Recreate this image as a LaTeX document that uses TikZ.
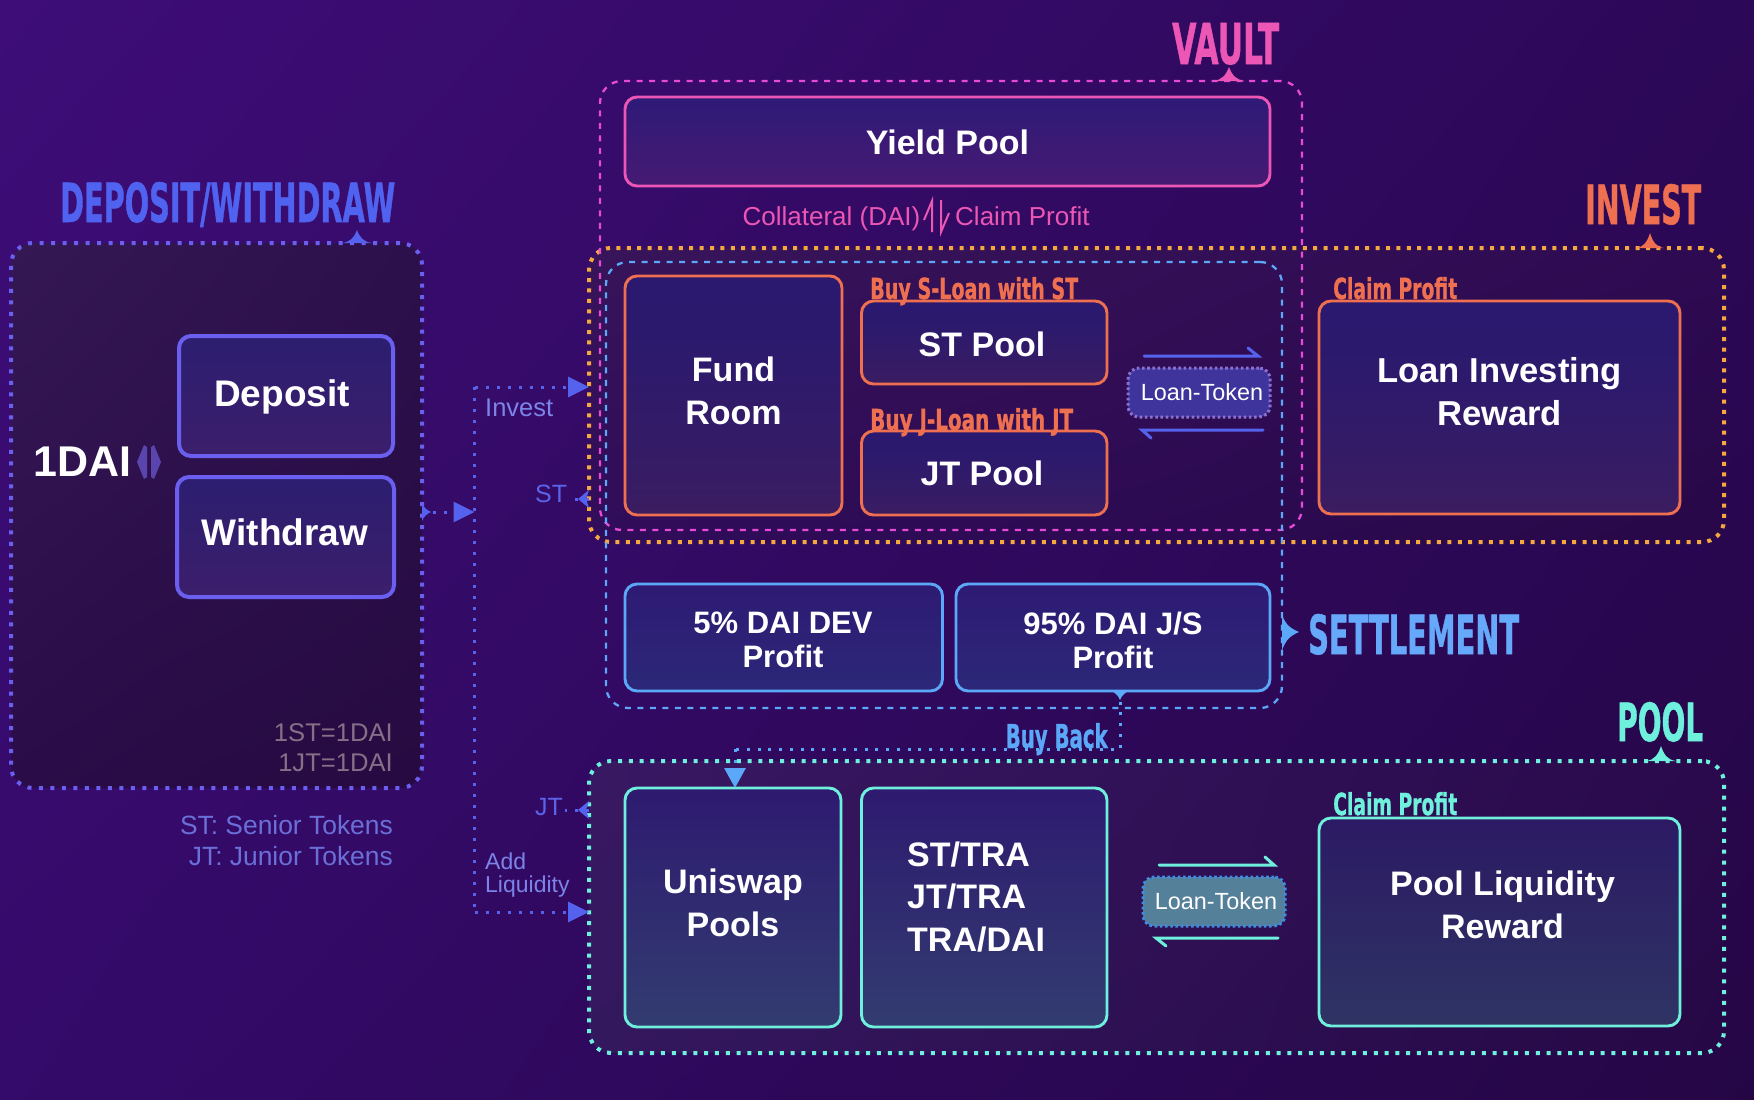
\documentclass[tikz,border=0pt]{standalone}
\usepackage{graphicx}
\usepackage{fontspec}
\setmainfont{Liberation Sans}
\newfontfamily\dinfont{DejaVu Sans Bold}[FakeBold=1.2]
\usetikzlibrary{arrows.meta,shadings}
\definecolor{cdep}{HTML}{6B5FF0}
\definecolor{cblue}{HTML}{5562EE}
\definecolor{cpink}{HTML}{EC56B4}
\definecolor{cmag}{HTML}{E84AD8}
\definecolor{cora}{HTML}{EF7050}
\definecolor{cgold}{HTML}{F4A83F}
\definecolor{csky}{HTML}{5CA8F8}
\definecolor{cteal}{HTML}{6EF0DC}
\definecolor{bgul}{HTML}{3E0D78}\definecolor{bgur}{HTML}{2C0858}\definecolor{bgll}{HTML}{340A6A}\definecolor{bglr}{HTML}{250645}
\definecolor{dul}{HTML}{341854}\definecolor{dur}{HTML}{2C104C}\definecolor{dll}{HTML}{2A0C48}\definecolor{dlr}{HTML}{260A40}
\definecolor{iul}{HTML}{38145A}\definecolor{iur}{HTML}{2E0A52}\definecolor{ill}{HTML}{300C5A}\definecolor{ilr}{HTML}{280848}
\definecolor{pul}{HTML}{381862}\definecolor{pur}{HTML}{2A0A4C}\definecolor{pll}{HTML}{34185E}\definecolor{plr}{HTML}{260846}
\definecolor{tA}{HTML}{2C1E70}\definecolor{bA}{HTML}{3C1E6C}
\definecolor{tP}{HTML}{2E1A78}\definecolor{bP}{HTML}{461A72}
\definecolor{tD}{HTML}{2E1A74}\definecolor{bD}{HTML}{2C2878}
\definecolor{tU}{HTML}{2E1A70}\definecolor{bU}{HTML}{323C70}
\definecolor{tR}{HTML}{2C1A64}\definecolor{bR}{HTML}{2E3464}
\definecolor{ltA}{HTML}{8C70D0}\definecolor{lfA}{HTML}{3F349C}
\definecolor{ltB}{HTML}{3F8CE0}\definecolor{lfB}{HTML}{55809A}
\definecolor{tST}{HTML}{5A64E8}\definecolor{tIN}{HTML}{7C84E8}
\definecolor{tRT}{HTML}{857088}\definecolor{tLG}{HTML}{6A70D8}
\definecolor{ico}{HTML}{5A44AD}\definecolor{tDW}{HTML}{4F63F0}\definecolor{tSE}{HTML}{66A8FA}
\pgfdeclareverticalshading{orangeboxshade}{100bp}{
  rgb(0bp)=(0.29,0.12,0.32);
  rgb(8bp)=(0.29,0.12,0.32);
  rgb(30bp)=(0.22,0.11,0.39);
  rgb(62bp)=(0.17,0.10,0.43);
  rgb(100bp)=(0.17,0.10,0.45)}
\tikzset{
  x=1pt,y=-1pt,
  box/.style={draw,line width=2.9pt,rounded corners=12pt,inner sep=0pt,outer sep=0pt},
  panel/.style={draw,rounded corners=22pt,line width=4pt,inner sep=0pt,outer sep=0pt},
  guide/.style={draw,rounded corners=22pt,line width=2.3pt,inner sep=0pt,outer sep=0pt,dash pattern=on 6pt off 6.5pt},
  flow/.style={cblue,line width=3pt,dash pattern=on 3pt off 8pt},
  back/.style={csky,line width=3pt,dash pattern=on 3pt off 7.7pt},
  bigtip/.tip={Triangle[length=21pt,width=20pt]},
  smalltip/.tip={Stealth[length=11pt,width=18pt,inset=3pt]},
  lbl/.style={inner sep=0pt,font=\fontsize{26}{31}\selectfont},
  half/.style={line width=3pt,line cap=round,line join=miter},
  tok/.style={draw,rounded corners=11pt,line width=3pt,dash pattern=on 2.6pt off 2.6pt,inner sep=0pt,outer sep=0pt},
  btext/.style={inner sep=0pt,align=center,text=white,font=\fontsize{34}{42.5}\selectfont\bfseries},
  ttext/.style={inner sep=0pt,text=white,font=\fontsize{23.4}{28}\selectfont},
}
% name, x1, y1, x2, y2, style
\newcommand{\bx}[6]{\node[#6,minimum width={(#4-#2)*1pt},minimum height={(#5-#3)*1pt}] (#1) at ({(#2+#4)/2},{(#3+#5)/2}) {};}
% name, x, ybase, w, h, colour, text
\newcommand{\din}[7]{\node[anchor=base west,inner sep=0pt,text=#6] (#1) at (#2,#3) {\resizebox{#4pt}{#5pt}{\dinfont #7}};}
% x, ytip, ybase, half width, colour
\newcommand{\nubup}[5]{\fill[#5] ({#1-#4},#3) .. controls ({#1-0.45*#4},{#3-1}) and ({#1-0.2*#4},{#3-0.4*(#3-#2)}) .. (#1,#2) .. controls ({#1+0.2*#4},{#3-0.4*(#3-#2)}) and ({#1+0.45*#4},{#3-1}) .. ({#1+#4},#3) -- cycle;}
\begin{document}
\begin{tikzpicture}
\useasboundingbox (0,0) rectangle (1754,1100);
\shade[upper left=bgul, upper right=bgur, lower left=bgll, lower right=bglr] (0,0) rectangle (1754,1100);

% panels
\bx{dep}{11}{243}{422}{788}{panel,draw=cdep,dash pattern=on 4pt off 7.5pt,upper left=dul,upper right=dur,lower left=dll,lower right=dlr}
\bx{invest}{589}{248}{1724}{542}{panel,draw=cgold,dash pattern=on 4pt off 6.4pt,upper left=iul,upper right=iur,lower left=ill,lower right=ilr}
\bx{pool}{589}{761}{1724}{1053}{panel,draw=cteal,dash pattern=on 4pt off 6.8pt,upper left=pul,upper right=pur,lower left=pll,lower right=plr}
\bx{vault}{600}{81}{1302}{530}{guide,draw=cmag}
\bx{settle}{606}{262}{1282}{708}{guide,draw=csky}

% boxes
\bx{deposit}{179}{336}{393}{456}{box,draw=cdep,line width=4pt,top color=tA,bottom color=bA}
\bx{withdraw}{177}{477}{394}{597}{box,draw=cdep,line width=4pt,top color=tA,bottom color=bA}
\bx{yield}{625}{97}{1270}{186}{box,draw=cpink,top color=tP,bottom color=bP}
\bx{fund}{625}{276}{842}{515}{box,draw=cora,shading=orangeboxshade}
\bx{stpool}{861.5}{301}{1107}{384}{box,draw=cora,shading=orangeboxshade}
\bx{jtpool}{861.5}{431}{1107}{515}{box,draw=cora,shading=orangeboxshade}
\bx{lir}{1319}{301}{1680}{514}{box,draw=cora,shading=orangeboxshade}
\bx{dev}{625}{584}{942.5}{691}{box,draw=csky,top color=tD,bottom color=bD}
\bx{js}{956}{584}{1270}{691}{box,draw=csky,top color=tD,bottom color=bD}
\bx{uni}{625}{788}{841}{1027}{box,draw=cteal,top color=tU,bottom color=bU}
\bx{pairs}{861.5}{788}{1107}{1027}{box,draw=cteal,top color=tU,bottom color=bU}
\bx{plrb}{1319}{818}{1680}{1026}{box,draw=cteal,top color=tR,bottom color=bR}

% box texts
\node[btext,font=\fontsize{37}{44}\selectfont\bfseries] (tdeposit) at (282,397) {Deposit};
\node[btext,font=\fontsize{37}{44}\selectfont\bfseries] (twithdraw) at (285,532.5) {Withdraw};
\node[btext] (tyield) at (947.5,142.5) {Yield Pool};
\node[btext] (tfund) at (733.5,391) {Fund\\Room};
\node[btext] (tst) at (982,344.5) {ST Pool};
\node[btext] (tjt) at (982,473) {JT Pool};
\node[btext,font=\fontsize{34.6}{42.5}\selectfont\bfseries] (tlir) at (1499.5,391.5) {Loan Investing\\Reward};
\node[btext,font=\fontsize{31}{34}\selectfont\bfseries] (tdev) at (783,640) {5\% DAI DEV\\Profit};
\node[btext,font=\fontsize{31}{34}\selectfont\bfseries] (tjs) at (1113,640) {95\% DAI J/S\\Profit};
\node[btext] (tuni) at (733,903) {Uniswap\\Pools};
\node[btext] (tplr) at (1502.5,905) {Pool Liquidity\\Reward};
\node[btext,align=left,anchor=west] (pairtext) at (907,897) {ST/TRA\\JT/TRA\\TRA/DAI};

% loan-token nodes
\bx{lt1}{1128}{368}{1270}{417}{tok,draw=ltA,fill=lfA}
\bx{lt2}{1143}{877}{1285}{926}{tok,draw=ltB,fill=lfB}
\node[ttext] (lt1t) at (1202,392) {Loan-Token};
\node[ttext] (lt2t) at (1216,901) {Loan-Token};

% half arrows
\coordinate (a1s) at (1144,356); \coordinate (a1e) at (1258,356);
\coordinate (a2s) at (1263,430); \coordinate (a2e) at (1142,430);
\coordinate (a3s) at (1159,865); \coordinate (a3e) at (1274,865);
\coordinate (a4s) at (1278,938); \coordinate (a4e) at (1156,938);
\draw[half,cblue] (a1s) -- (a1e) -- +(-10,-8);
\draw[half,cblue] (a2s) -- (a2e) -- +(9,8);
\draw[half,cteal] (a3s) -- (a3e) -- +(-9,-8);
\draw[half,cteal] (a4s) -- (a4e) -- +(10,8);

% harpoons
\coordinate (h1s) at (932,232); \coordinate (h1e) at (932,201);
\coordinate (h2s) at (941,200); \coordinate (h2e) at (941,232);
\draw[cpink,line width=2pt] (h1s) -- (h1e) -- (924,220);
\draw[cpink,line width=2pt] (h2s) -- (h2e) -- (949,213);

% connectors
\coordinate (split) at (474.5,512);
\coordinate (tinv) at (474.5,387);
\coordinate (tliq) at (474.5,912);
\coordinate (bb1) at (1120,749);
\coordinate (bb2) at (735,749);
\draw[flow] (tinv) -- (tliq);
\draw[flow,-{bigtip}] (dep.east |- split) -- (split);
\draw[flow,-{bigtip}] (tinv) -- (invest.west |- tinv);
\draw[flow,-{bigtip}] (tliq) -- (pool.west |- tliq);
\fill[cblue] (422,503) .. controls (424,508) and (427,510) .. (431,512) .. controls (427,514) and (424,516) .. (422,521) -- cycle;
\draw[back] (js.south -| bb1) -- (bb1) -- (bb2);
\draw[back,-{Triangle[length=20pt,width=21pt]}] (bb2) -- (uni.north -| bb2);
\fill[csky] (1112,691) .. controls (1115,693) and (1118,695) .. (1120,700) .. controls (1122,695) and (1125,693) .. (1128,691) -- cycle;

% labels on connectors
\node[lbl,anchor=west,text=tST,font=\fontsize{25}{30}\selectfont] (lst) at (535,494) {ST};
\node[lbl,anchor=west,text=tST,font=\fontsize{25}{30}\selectfont] (ljt) at (535,807) {JT};
\coordinate (cst) at (567,499); \coordinate (cjt) at (565,810);
\coordinate (ast) at (578,499); \coordinate (ajt) at (578,810);
\draw[flow,-{smalltip}] (invest.west |- ast) -- (ast);
\draw[flow] (ast) -- (cst);
\draw[flow,-{smalltip}] (pool.west |- ajt) -- (ajt);
\draw[flow] (ajt) -- (cjt);
\node[lbl,anchor=west,text=tIN,font=\fontsize{25.5}{30}\selectfont] (linv) at (485,407.5) {Invest};
\node[lbl,anchor=west,align=left,text=tIN,font=\fontsize{23}{23}\selectfont] (lliq) at (485,875) {Add\\Liquidity};

% plain labels
\node[lbl,anchor=east,align=right,text=tRT,font=\fontsize{25.6}{30}\selectfont] (rates) at (393,747.5) {1ST=1DAI\\1JT=1DAI};
\node[lbl,anchor=east,align=right,text=tLG,font=\fontsize{26.4}{31}\selectfont] (legend) at (393,841) {ST: Senior Tokens\\JT: Junior Tokens};
\node[lbl,anchor=base east,text=cpink] (coll) at (920.5,225) {Collateral (DAI)};
\node[lbl,anchor=base west,text=cpink] (claim) at (955,225) {Claim Profit};
\node[inner sep=0pt,text=white,font=\fontsize{43}{50}\selectfont\bfseries,anchor=west] (dai) at (33,462) {1DAI};
\fill[ico] (137,462) -- (144,445) -- (147,447) -- (147,477) -- (144,479) -- cycle;
\fill[ico] (161,462) -- (154,445) -- (151,447) -- (151,477) -- (154,479) -- cycle;

% condensed headings
\din{tdep}{60}{222}{335}{40}{tDW}{DEPOSIT/WITHDRAW}
\din{tvault}{1172}{64}{107}{41}{cpink}{VAULT}
\din{tinvest}{1585}{224}{116}{40}{cora}{INVEST}
\din{tsettle}{1308}{654}{211}{40}{tSE}{SETTLEMENT}
\din{tpool}{1617}{741}{86}{39}{cteal}{POOL}
\din{bs}{870}{299}{208}{22}{cora}{Buy S-Loan with ST}
\din{bj}{870}{430}{203}{22}{cora}{Buy J-Loan with JT}
\din{cp1}{1333}{299}{124}{22}{cora}{Claim Profit}
\din{cp2}{1333}{815}{124}{23}{cteal}{Claim Profit}
\din{bb}{1005.5}{748}{102}{25}{csky}{Buy Back}

% heading markers
\nubup{357}{230}{243}{15}{cblue}
\nubup{1229}{67}{81}{16}{cpink}
\nubup{1650}{233}{248}{14}{cora}
\nubup{1661}{746}{761}{15}{cteal}
\fill[csky] (1282,615) .. controls (1285,622) and (1287,627) .. (1299,632) .. controls (1287,637) and (1285,643) .. (1282,650) -- cycle;
\end{tikzpicture}
\end{document}
